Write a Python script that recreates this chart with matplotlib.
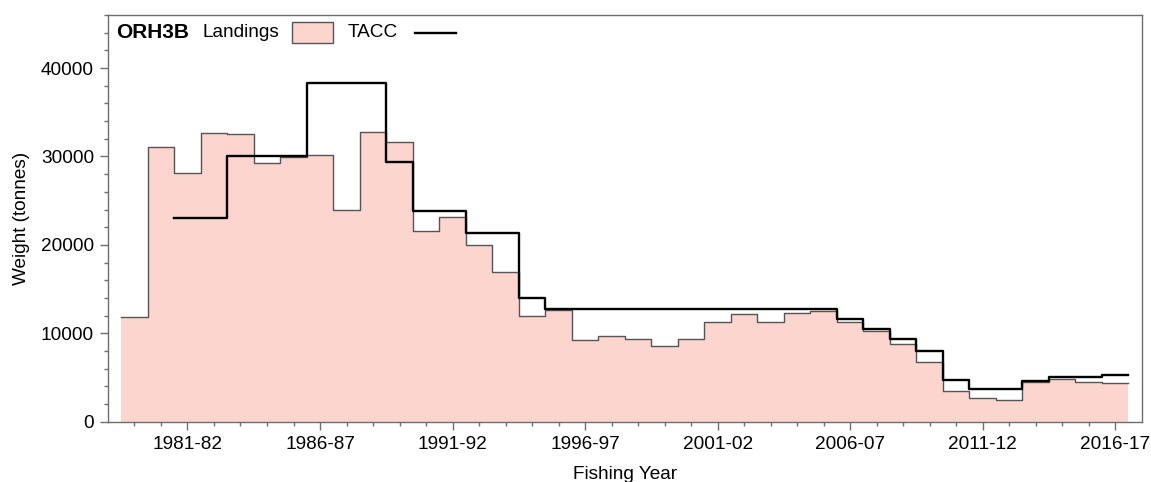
import numpy as np
import matplotlib.pyplot as plt
from matplotlib.patches import Rectangle
from matplotlib.ticker import MultipleLocator

plt.rcParams['font.family'] = ['Liberation Sans', 'DejaVu Sans']

# fishing years 1979-80 .. 2016-17
start_years = list(range(1979, 2017))
year_labels = [f'{y}-{str(y + 1)[-2:]}' for y in start_years]

landings = [11800, 31100, 28100, 32600, 32500, 29300, 29900, 30200, 24000, 32800,
            31600, 21600, 23200, 20000, 16900, 11900, 12600, 9200, 9700, 9400,
            8600, 9300, 11300, 12200, 11300, 12300, 12500, 11300, 10300, 8800,
            6700, 3500, 2700, 2450, 4500, 4800, 4500, 4400]

# TACC starts in 1981-82
tacc = [np.nan, np.nan, 23000, 23000, 30000, 30000, 30000, 38300, 38300, 38300,
        29400, 23800, 23800, 21300, 21300, 14000, 12700, 12700, 12700, 12700,
        12700, 12700, 12700, 12700, 12700, 12700, 12700, 11600, 10500, 9400,
        8000, 4700, 3700, 3700, 4600, 5000, 5000, 5300]

pink = '#fcd5cf'
edge = '#555555'
axis_grey = '#6e6e6e'

fig = plt.figure(figsize=(11.51, 4.82), dpi=100)
ax = fig.add_axes([0.0938, 0.1251, 0.8981, 0.8438])

n = len(landings)
x = np.arange(n)
edges = np.arange(n + 1) - 0.5
land_steps = np.append(landings, landings[-1])
tacc_steps = np.append(tacc, tacc[-1])

ax.fill_between(edges, 0, land_steps, step='post', color=pink, linewidth=0)
ax.step(edges, land_steps, where='post', color=edge, linewidth=1.0)
ax.step(edges, tacc_steps, where='post', color='black', linewidth=1.7)

ax.set_xlim(-1, n)
ax.set_ylim(0, 46000)

major = [i for i in x if (start_years[i] - 1981) % 5 == 0]
ax.set_xticks(major)
ax.set_xticklabels([year_labels[i] for i in major])
ax.set_xticks(x, minor=True)
ax.yaxis.set_major_locator(MultipleLocator(10000))
ax.yaxis.set_minor_locator(MultipleLocator(2000))

ax.tick_params(which='major', length=6, width=1, color=axis_grey, labelsize=13.7, pad=4)
ax.tick_params(which='minor', length=3, width=1, color=axis_grey)
for s in ax.spines.values():
    s.set_color(axis_grey)
    s.set_linewidth(1)

ax.set_xlabel('Fishing Year', fontsize=13.7, labelpad=10)
ax.set_ylabel('Weight (tonnes)', fontsize=13.7, labelpad=8)

# legend drawn by hand, as in the original
ax.text(0.0077, 0.956, 'ORH3B', transform=ax.transAxes, fontsize=15,
        fontweight='bold', va='center', ha='left')
ax.text(0.091, 0.956, 'Landings', transform=ax.transAxes, fontsize=13.7,
        va='center', ha='left')
ax.add_patch(Rectangle((0.178, 0.931), 0.0397, 0.052, transform=ax.transAxes,
                       facecolor=pink, edgecolor=edge, linewidth=1, clip_on=False))
ax.text(0.232, 0.956, 'TACC', transform=ax.transAxes, fontsize=13.7,
        va='center', ha='left')
ax.plot([0.297, 0.337], [0.956, 0.956], transform=ax.transAxes, color='black',
        linewidth=1.7)

fig.savefig('out.png', dpi=100)
